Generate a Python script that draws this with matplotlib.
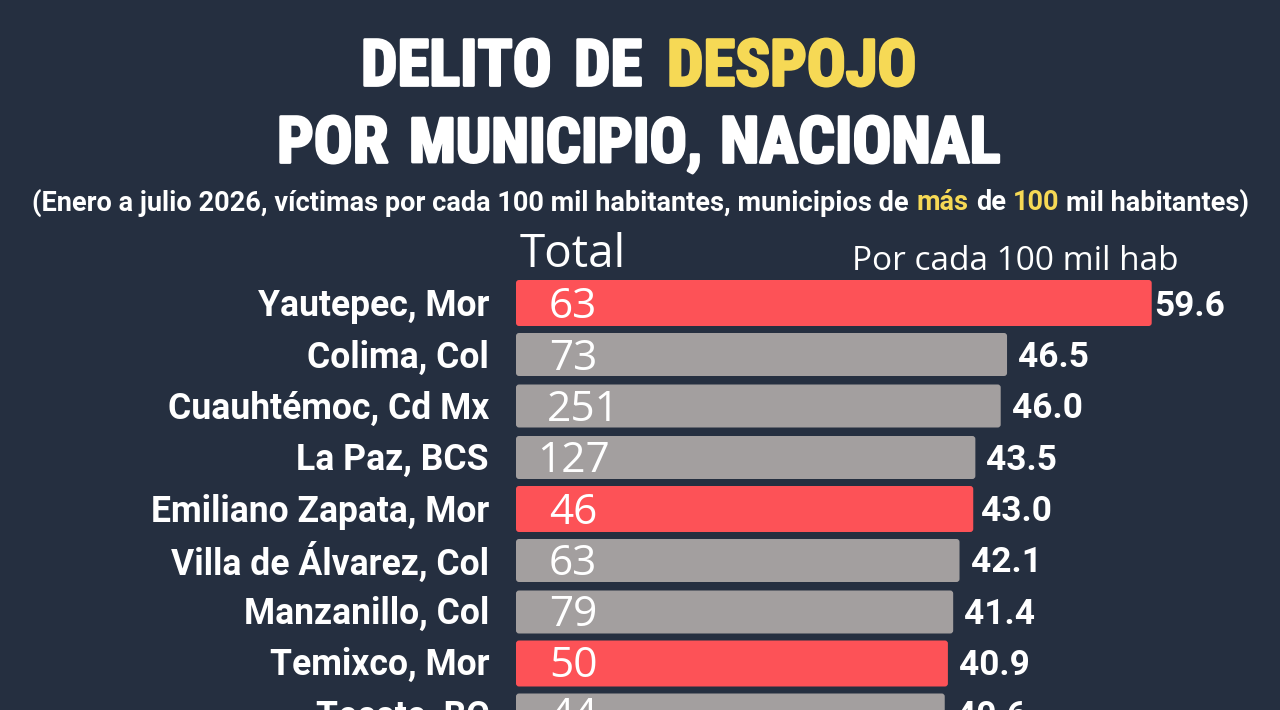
import matplotlib
matplotlib.use("Agg")
import matplotlib.pyplot as plt
import matplotlib.patheffects as pe
from matplotlib.patches import FancyBboxPatch

municipios = ["Yautepec, Mor", "Colima, Col", "Cuauhtémoc, Cd Mx", "La Paz, BCS", "Emiliano Zapata, Mor",
              "Villa de Álvarez, Col", "Manzanillo, Col", "Temixco, Mor", "Tecate, BC"]
tasas = [59.6, 46.5, 46.0, 43.5, 43.0, 42.1, 41.4, 40.9, 40.6]
# largo dibujado de cada barra, no es del todo proporcional en el original
largos = [60.2, 46.5, 45.9, 43.5, 43.3, 42.0, 41.4, 40.9, 40.6]
totales = [63, 73, 251, 127, 46, 63, 79, 50, 44]
es_morelos = [True, False, False, False, True, False, False, True, False]

FONDO = "#252f40"
ROJO = "#fd5257"
GRIS = "#a39f9f"
AMARILLO = "#f6d955"

fig = plt.figure(figsize=(12.8, 7.1), dpi=100, facecolor=FONDO)
# eje en pixeles de la imagen
ax = fig.add_axes([0, 0, 1, 1])
ax.set_xlim(0, 1280)
ax.set_ylim(710, 0)
ax.axis("off")

esc = 10.56
x0 = 516
paso = 51.5
y_ini = 303

for i, m in enumerate(municipios):
    yc = y_ini + paso * i
    ancho = largos[i] * esc
    alto = 46 if es_morelos[i] else 43
    color = ROJO if es_morelos[i] else GRIS
    barra = FancyBboxPatch((x0 + 3, yc - alto / 2 + 3), ancho - 6, alto - 6,
                           boxstyle="round,pad=3", fc=color, ec="none")
    ax.add_patch(barra)
    yt = 306.5 + 51.25 * i
    ax.text(489, yt, m, ha="right", va="center", color="white", fontsize=25.6,
            fontweight="bold", family="Roboto")
    # el 251 va corrido a la derecha en el original
    xnum = 583 if totales[i] == 251 else 573
    ax.text(xnum, yt + 1, str(totales[i]), ha="center", va="center", color="white", fontsize=30.5,
            family="Open Sans")
    hueco = 2 if i == 0 else 8 if i == 4 else 11
    ax.text(x0 + ancho + hueco, yt, f"{tasas[i]:.1f}", ha="left", va="center", color="white",
            fontsize=25.4, fontweight="bold", family="Roboto")

# titulo, palabra por palabra
palabras = [("DELITO", 361, 68, "white", 46.5), ("DE", 574, 68, "white", 46.5), ("DESPOJO", 667, 68, AMARILLO, 46.5),
            ("POR", 277, 145, "white", 46.5), ("MUNICIPIO,", 409, 145, "white", 44.5),
            ("NACIONAL", 720, 145, "white", 46.5)]
for txt, xp, yp, col, tam in palabras:
    t = ax.text(xp, yp, txt, ha="left", va="center", color=col, fontsize=tam, fontweight="bold",
                family="Roboto Condensed")
    t.set_path_effects([pe.withStroke(linewidth=2, foreground=col)])

# subtitulo
partes = [("(Enero a julio 2026, víctimas por cada 100 mil habitantes, municipios de", "white", 32),
          ("más", AMARILLO, 916), ("de", "white", 976), ("100", AMARILLO, 1013),
          ("mil habitantes)", "white", 1066)]
for txt, col, xp in partes:
    ax.text(xp, 203, txt, ha="left", va="center", color=col, fontsize=19.5, fontweight="bold",
            family="Roboto")

ax.text(520, 255, "Total", ha="left", va="center", color="white", fontsize=33, family="Open Sans")
ax.text(852, 261, "Por cada 100 mil hab", ha="left", va="center", color="white", fontsize=24,
        family="Open Sans")

fig.savefig("out.png", dpi=100, facecolor=FONDO)
